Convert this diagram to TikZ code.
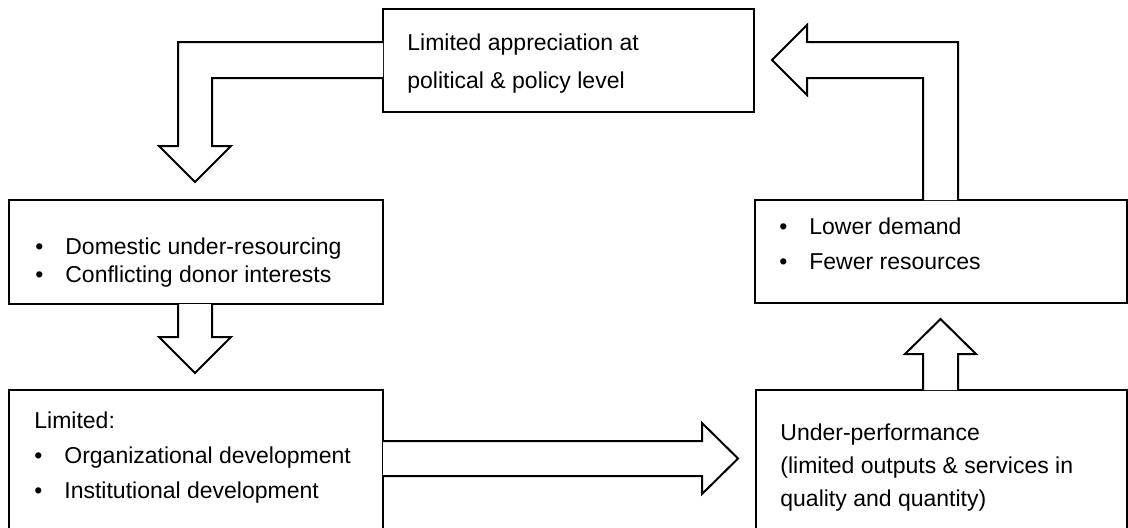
\documentclass[tikz,border=0pt]{standalone}
\usepackage{fontspec}
\setmainfont{Liberation Sans}
\usetikzlibrary{calc}

\tikzset{
  box/.style={draw, line width=1pt, rectangle, inner sep=0pt, anchor=north west},
  txt/.style={anchor=north west, inner sep=0pt, align=left},
  fatarrow/.style={draw, fill=white, line width=1pt, line join=miter},
}
\newcommand{\itm}{\makebox[15pt][l]{\textbullet}}

\begin{document}
\begin{tikzpicture}[x=0.5pt, y=-0.5pt]
  \clip (0,0) rectangle (1128,527);

  % boxes
  \node[box, minimum width=185.5pt, minimum height=51.5pt] (top) at (382,8) {};
  \node[box, minimum width=187pt, minimum height=52pt] (lmid) at (8,199) {};
  \node[box, minimum width=186pt, minimum height=51.5pt] (rmid) at (754,199) {};
  \node[box, minimum width=187pt, minimum height=80pt] (lbot) at (8,389) {};
  \node[box, minimum width=185.5pt, minimum height=80pt] (rbot) at (755,389) {};

  % texts
  \node[txt, font=\fontsize{11.5}{19}\selectfont] (apprTxt) at (407,33)
    {Limited appreciation at\\political \& policy level};
  \node[txt, font=\fontsize{11.5}{14}\selectfont] (resTxt) at (35,237)
    {\itm Domestic under-resourcing\\\itm Conflicting donor interests};
  \node[txt, font=\fontsize{11.5}{17.5}\selectfont] (demTxt) at (779,217)
    {\itm Lower demand\\\itm Fewer resources};
  \node[txt, font=\fontsize{11.5}{17.5}\selectfont] (devTxt) at (34,411)
    {Limited:\\\itm Organizational development\\\itm Institutional development};
  \node[txt, font=\fontsize{11.5}{16.5}\selectfont] (perfTxt) at (780,423)
    {Under-performance\\(limited outputs \& services in\\quality and quantity)};

  % block arrows
  \draw[fatarrow] ($(top.west |- 0,42)+(1,0)$) -- (178,42) -- (178,146) -- (159,146)
    -- (195,182) -- (231,146) -- (212,146) -- (212,78) -- ($(top.west |- 0,78)+(1,0)$);
  \draw[fatarrow] ($(lmid.south -| 178,0)+(0,-1)$) -- (178,337) -- (159,337)
    -- (195,373) -- (231,337) -- (212,337) -- ($(lmid.south -| 212,0)+(0,-1)$);
  \draw[fatarrow] ($(lbot.east |- 0,441)+(-1,0)$) -- (702,441) -- (702,423)
    -- (738,458.5) -- (702,494) -- (702,476) -- ($(lbot.east |- 0,476)+(-1,0)$);
  \draw[fatarrow] ($(rbot.north -| 923,0)+(0,1)$) -- (923,354) -- (905,354)
    -- (940.5,319) -- (976,354) -- (958,354) -- ($(rbot.north -| 958,0)+(0,1)$);
  \draw[fatarrow] ($(rmid.north -| 958,0)+(0,1)$) -- (958,42) -- (807,42) -- (807,25)
    -- (772,60) -- (807,95) -- (807,78) -- (923,78) -- ($(rmid.north -| 923,0)+(0,1)$);
\end{tikzpicture}
\end{document}
